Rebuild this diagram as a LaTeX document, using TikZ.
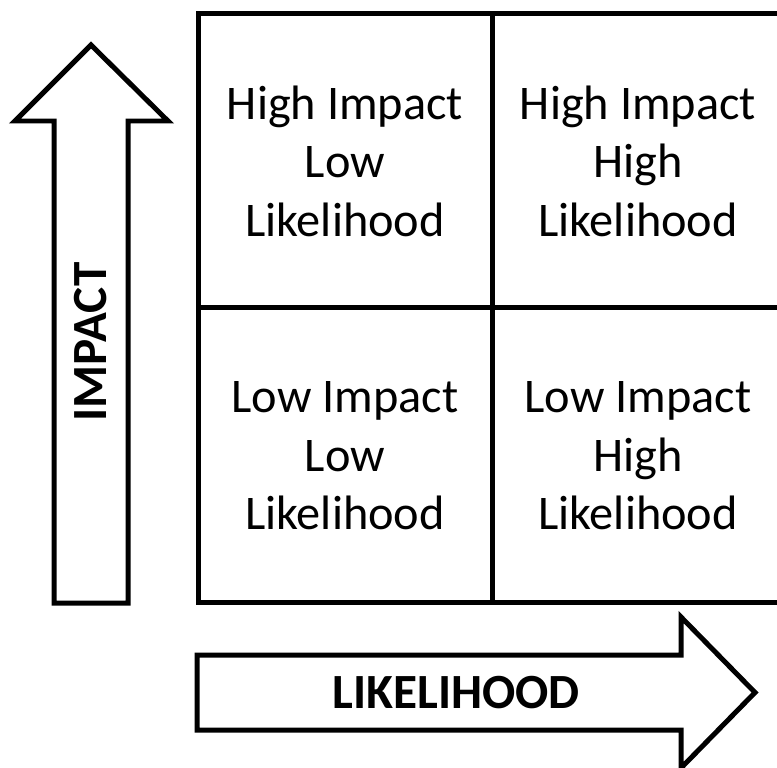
\documentclass[tikz,border=0pt]{standalone}
\usepackage{fontspec}
\setmainfont{Carlito}
\usepackage{tikz}
\usetikzlibrary{calc, positioning}
\tikzset{
    x=0.02cm, y=-0.02cm,% one unit is one pixel of the reference
    cell/.style = {align=center, inner sep=0pt, font=\fontsize{27.5}{33.3}\selectfont}, % text of a square of the grid
    axis/.style = {inner sep=0pt, font=\fontsize{28}{30}\selectfont\bfseries}, % text of an arrow
    bigarrow/.style = {draw, fill=white}
}
\begin{document}
\begin{tikzpicture}[line width=0.1cm, line join=miter]
  \useasboundingbox (0,0) rectangle (777,767);
  % the grid
  \draw (198,14) rectangle (784,602);
  \draw (492,14) -- (492,602);
  \draw (198,307) -- (784,307);
  % the up arrow
  \draw [bigarrow] (54,603) -- (54,121) -- (15,121) -- (91,45) -- (168,121) -- (128,121) -- (128,603) -- cycle;
  % the right arrow
  \draw [bigarrow] (197,655) -- (681,655) -- (681,617) -- (755,692.5) -- (681,768) -- (681,730) -- (197,730) -- cycle;
  \node [cell] (HL) at (345,161) {High Impact\\Low\\Likelihood};
  \node [cell] (HH) at (638,161) {High Impact\\High\\Likelihood};
  \node [cell] (LL) at (345,456) {Low Impact\\Low\\Likelihood};
  \node [cell] (LH) at (638,456) {Low Impact\\High\\Likelihood};
  \node [axis, rotate=90] (impact) at (91,342) {IMPACT};
  \node [axis] (likelihood) at (456,693) {LIKELIHOOD};
\end{tikzpicture}
\end{document}
